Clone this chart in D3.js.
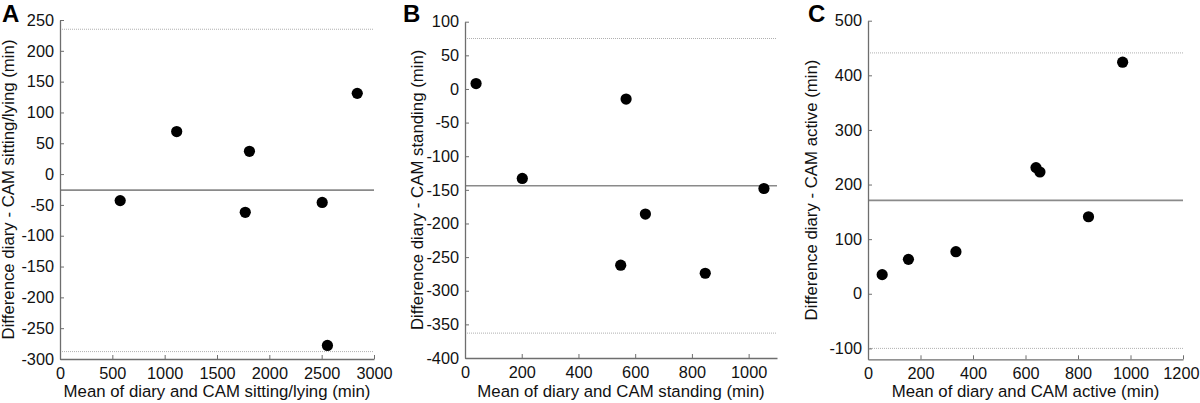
<!DOCTYPE html>
<html>
<head>
<meta charset="utf-8">
<script src="https://cdn.jsdelivr.net/npm/d3@7"></script>
<style>
body{margin:0;background:#fff;}
svg{display:block;font-family:"Liberation Sans",Arial,sans-serif;}
</style>
</head>
<body>
<svg id="chart" width="1200" height="403"></svg>
<script>
// Panel A: sitting/lying
const aX = [575, 1115, 1810, 1770, 2505, 2555, 2840];
const aY = [-43, 69, 37, -62, -46, -278, 131];
const aMean = -26, aUpper = 235, aLower = -288;
const aXTicks = [0, 500, 1000, 1500, 2000, 2500, 3000];
const aYTicks = [-300, -250, -200, -150, -100, -50, 0, 50, 100, 150, 200, 250];

// Panel B: standing
const bX = [39, 202, 568, 1054, 636, 549, 847];
const bY = [8, -133, -15, -148, -186, -262, -274];
const bMean = -144, bUpper = 75, bLower = -363;
const bXTicks = [0, 200, 400, 600, 800, 1000];
const bYTicks = [-400, -350, -300, -250, -200, -150, -100, -50, 0, 50, 100];

// Panel C: active
const cX = [54, 154, 335, 840, 970, 640, 655];
const cY = [35, 63, 77, 141, 424, 231, 223];
const cMean = 171, cUpper = 441, cLower = -100;
const cXTicks = [0, 200, 400, 600, 800, 1000, 1200];
const cYTicks = [-100, 0, 100, 200, 300, 400, 500];

const panels = [
  {letter:"A", lx:2, x0:60, x1:374, y0:20, y1:359, xd:[0,3000], yd:[-300,250], xs:aX, ys:aY,
   mean:aMean, up:aUpper, lo:aLower, xt:aXTicks, yt:aYTicks, titleX:14,
   xlab:"Mean of diary and CAM sitting/lying (min)", ylab:"Difference diary - CAM sitting/lying (min)"},
  {letter:"B", lx:403, x0:465, x1:777, y0:21.7, y1:358, xd:[0,1100], yd:[-400,100], xs:bX, ys:bY,
   mean:bMean, up:bUpper, lo:bLower, xt:bXTicks, yt:bYTicks, titleX:423,
   xlab:"Mean of diary and CAM standing (min)", ylab:"Difference diary - CAM standing (min)"},
  {letter:"C", lx:808, x0:868, x1:1183, y0:20.7, y1:359.3, xd:[0,1200], yd:[-120,500], xs:cX, ys:cY,
   mean:cMean, up:cUpper, lo:cLower, xt:cXTicks, yt:cYTicks, titleX:817,
   xlab:"Mean of diary and CAM active (min)", ylab:"Difference diary - CAM active (min)"}
];

const svg = d3.select("#chart");
const axisColor = "#6e6e6e";
const fmt = d => String(d);

panels.forEach(p => {
  const x = d3.scaleLinear().domain(p.xd).range([p.x0, p.x1]);
  const y = d3.scaleLinear().domain(p.yd).range([p.y1, p.y0]);
  const g = svg.append("g");

  // limits of agreement (dotted)
  [p.up, p.lo].forEach(v => {
    g.append("line").attr("x1", p.x0).attr("x2", p.x1)
      .attr("y1", y(v)).attr("y2", y(v))
      .attr("stroke", "#b0b0b0").attr("stroke-width", 1)
      .attr("stroke-dasharray", "1,1");
  });
  // mean line
  g.append("line").attr("x1", p.x0).attr("x2", p.x1)
    .attr("y1", y(p.mean)).attr("y2", y(p.mean))
    .attr("stroke", "#8a8a8a").attr("stroke-width", 1.6);

  // axes
  const xa = g.append("g").attr("transform", `translate(0,${p.y1})`)
    .call(d3.axisBottom(x).tickValues(p.xt).tickSize(-4).tickSizeOuter(0).tickPadding(8).tickFormat(fmt));
  const ya = g.append("g").attr("transform", `translate(${p.x0},0)`)
    .call(d3.axisLeft(y).tickValues(p.yt).tickSize(-4).tickSizeOuter(0).tickPadding(6).tickFormat(fmt));
  [xa, ya].forEach(a => {
    a.select(".domain").attr("stroke", axisColor).attr("stroke-width", 1.3);
    a.selectAll(".tick line").attr("stroke", axisColor);
    a.selectAll(".tick text").attr("fill", "#111").style("font-size", "16.3px")
      .style("font-family", "'Liberation Sans', Arial, sans-serif");
  });
  // keep a last x tick label that would run past the page edge inside it
  xa.selectAll(".tick text").each(function(d) {
    const px = x(d);
    const w = this.getComputedTextLength();
    if (px + w / 2 > 1199) {
      d3.select(this).attr("text-anchor", "end").attr("x", 1199 - px);
    }
  });

  // points
  g.selectAll("circle").data(p.xs.map((v, i) => [v, p.ys[i]])).enter().append("circle")
    .attr("cx", d => x(d[0])).attr("cy", d => y(d[1])).attr("r", 5.6).attr("fill", "#000");

  // titles
  g.append("text").attr("x", (p.x0 + p.x1) / 2).attr("y", 397)
    .attr("text-anchor", "middle").style("font-size", "16.8px").attr("fill", "#111").text(p.xlab);
  g.append("text").attr("transform", `translate(${p.titleX},${(p.y0 + p.y1) / 2}) rotate(-90)`)
    .attr("text-anchor", "middle").style("font-size", "16.8px").attr("fill", "#111").text(p.ylab);
  g.append("text").attr("x", p.lx).attr("y", 22).style("font-size", "24px")
    .style("font-weight", "bold").attr("fill", "#000").text(p.letter);
});
</script>
</body>
</html>
